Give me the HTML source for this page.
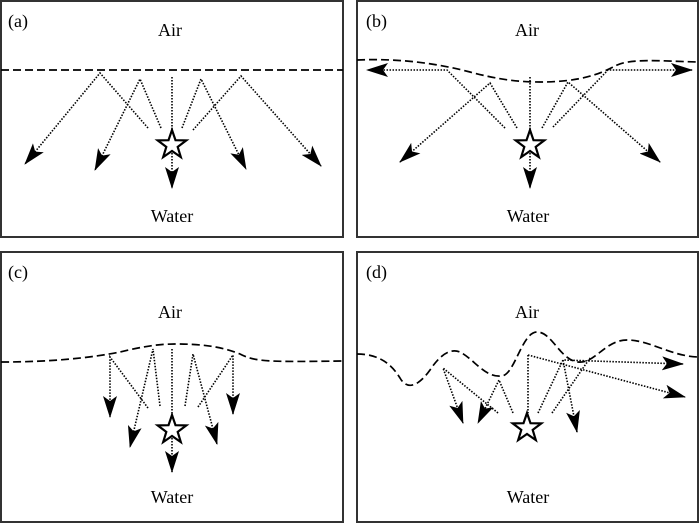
<!DOCTYPE html>
<html><head><style>
html,body{margin:0;padding:0;background:#fff;}
svg{display:block;}
text{font-family:"Liberation Serif",serif;font-size:18px;fill:#000;}
</style></head><body>
<svg width="700" height="523" viewBox="0 0 700 523" xmlns="http://www.w3.org/2000/svg">
<defs>
<marker id="ah" markerWidth="22" markerHeight="14" refX="21" refY="7" orient="auto" markerUnits="userSpaceOnUse">
<path d="M0,0 L22,7 L0,14 L5,7 Z" fill="#000"/>
</marker>
<path id="star" d="M0,-15 L3.5,-4.8 L14.3,-4.6 L5.7,1.9 L8.8,12.1 L0,6 L-8.8,12.1 L-5.7,1.9 L-14.3,-4.6 L-3.5,-4.8 Z" fill="#fff" stroke="#000" stroke-width="2.2"/>
</defs>
<g fill="none" stroke="#333" stroke-width="2">
<rect x="1" y="1" width="342" height="236"/>
<rect x="357" y="1" width="341" height="236"/>
<rect x="1" y="252" width="342" height="270"/>
<rect x="357" y="252" width="341" height="270"/>
</g>
<g fill="none" stroke="#000" stroke-width="1.7" stroke-dasharray="8,4">
<line x1="1" y1="70" x2="343" y2="70"/>
<path d="M357,60 C400,58 440,64 470,72 C500,80 520,82 540,82 C580,82 600,74 615,66 C630,58 660,61 698,62"/>
<path d="M1,362 C50,362 90,358 120,352 C145,346 160,344 175,344 C200,344 220,346 240,354 C255,362 270,362 343,361"/>
<path d="M357,354 C380,354 392,365 400,378 C408,392 420,384 430,370 C440,355 450,348 460,352 C475,360 485,378 502,376 C515,374 522,332 537,332 C552,332 560,360 578,362 C595,364 605,340 627,340 C650,340 670,356 698,357"/>
</g>
<g fill="none" stroke="#000" stroke-width="1.6" stroke-dasharray="1.5,1.5">
<polyline points="148,128 100,73 25,164" marker-end="url(#ah)"/>
<polyline points="161,128 140,79 95,170" marker-end="url(#ah)"/>
<line x1="172" y1="77" x2="172" y2="145"/>
<line x1="172" y1="150" x2="172" y2="188" marker-end="url(#ah)"/>
<polyline points="182,128 201,79 246,169" marker-end="url(#ah)"/>
<polyline points="193,130 241,76 321,166" marker-end="url(#ah)"/>
<polyline points="505,128 447,70 367,70" marker-end="url(#ah)"/>
<polyline points="517,128 490,83 400,162" marker-end="url(#ah)"/>
<line x1="530" y1="77" x2="530" y2="145"/>
<line x1="530" y1="150" x2="530" y2="188" marker-end="url(#ah)"/>
<polyline points="542,128 568,82 660,162" marker-end="url(#ah)"/>
<polyline points="553,127 608,70 692,70" marker-end="url(#ah)"/>
<polyline points="148,408 110,357 110,417" marker-end="url(#ah)"/>
<polyline points="160,406 153,349 130,447" marker-end="url(#ah)"/>
<line x1="172" y1="349" x2="172" y2="430"/>
<line x1="172" y1="435" x2="172" y2="472" marker-end="url(#ah)"/>
<polyline points="185,406 193,354 217,444" marker-end="url(#ah)"/>
<polyline points="198,407 233,355 233,414" marker-end="url(#ah)"/>
<polyline points="498,413 443,368 463,423" marker-end="url(#ah)"/>
<polyline points="513,413 499,380 478,423" marker-end="url(#ah)"/>
<line x1="528" y1="355" x2="528" y2="413"/>
<line x1="528" y1="355" x2="685" y2="397" marker-end="url(#ah)"/>
<polyline points="538,413 563,360 683,364" marker-end="url(#ah)"/>
<line x1="552" y1="413" x2="590" y2="358"/>
<line x1="563" y1="360" x2="577" y2="432" marker-end="url(#ah)"/>
</g>
<use href="#star" x="172" y="145"/>
<use href="#star" x="530" y="145"/>
<use href="#star" x="172" y="430"/>
<use href="#star" x="527" y="428"/>
<text x="8" y="27">(a)</text>
<text x="170" y="36" text-anchor="middle">Air</text>
<text x="172" y="222" text-anchor="middle">Water</text>
<text x="366" y="27">(b)</text>
<text x="527" y="36" text-anchor="middle">Air</text>
<text x="528" y="222" text-anchor="middle">Water</text>
<text x="8" y="278">(c)</text>
<text x="170" y="318" text-anchor="middle">Air</text>
<text x="172" y="503" text-anchor="middle">Water</text>
<text x="366" y="278">(d)</text>
<text x="527" y="318" text-anchor="middle">Air</text>
<text x="528" y="503" text-anchor="middle">Water</text>
</svg>
</body></html>
